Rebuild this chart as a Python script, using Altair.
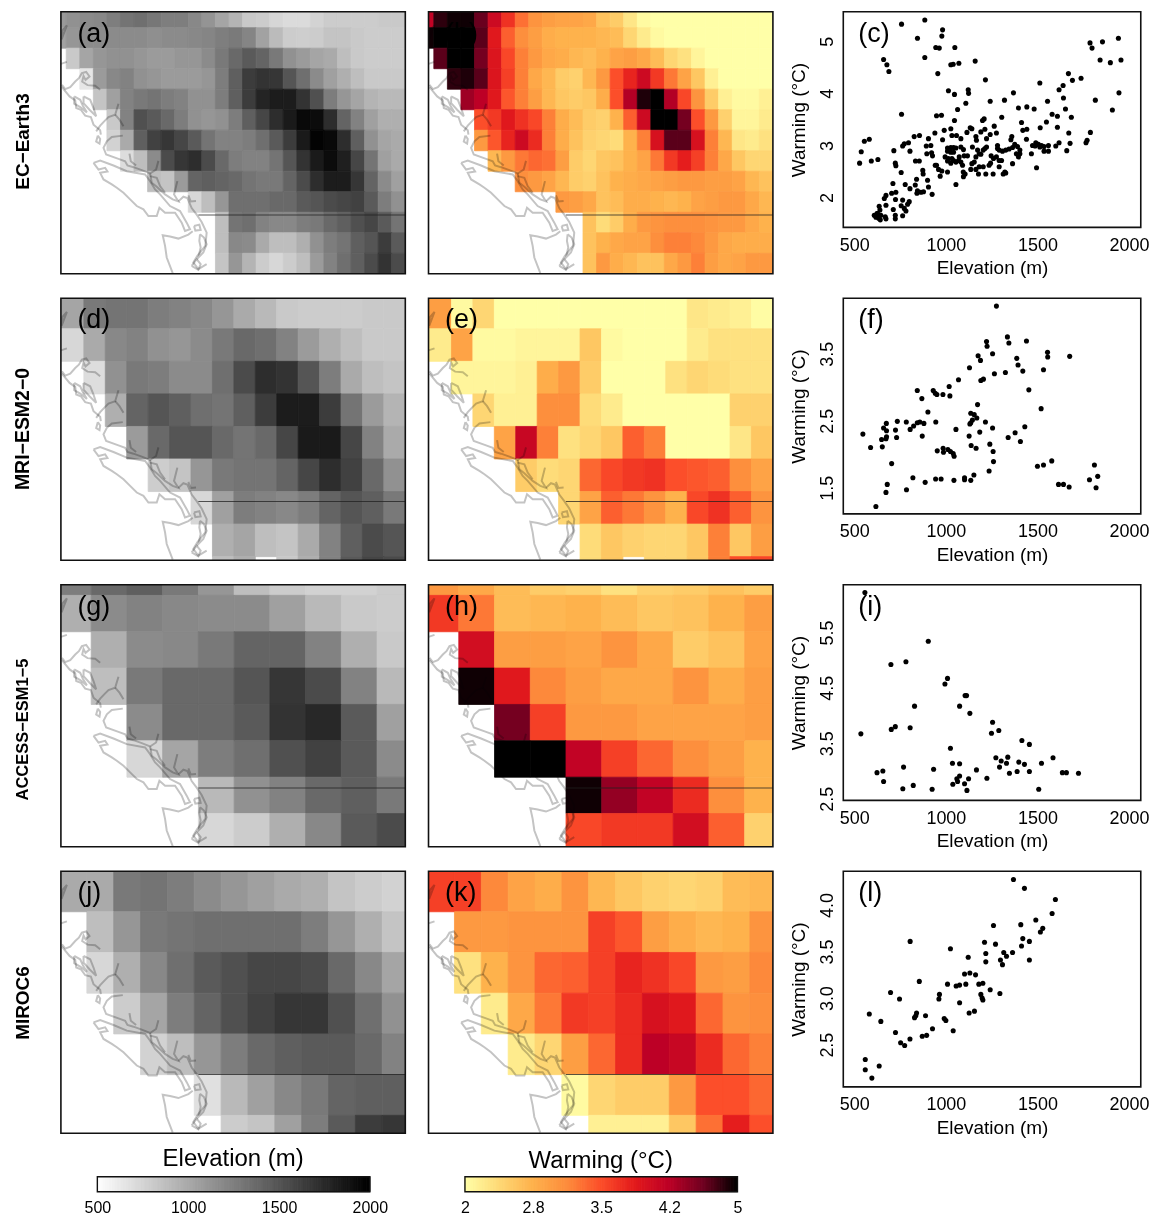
import altair as alt
import numpy as np
import pandas as pd

N = None
MODELS = ["EC−Earth3", "MRI−ESM2−0", "ACCESS−ESM1−5", "MIROC6"]
MODEL_LABEL_Y = [130, 131, 145, 132]
MODEL_LABEL_SIZE = [19, 19.5, 16.5, 19]
PANEL_LABELS = ["(a)", "(b)", "(c)", "(d)", "(e)", "(f)", "(g)", "(h)", "(i)", "(j)", "(k)", "(l)"]

ELEV_A = [
 [1100,1150,1180,1200,1260,1320,1350,1300,1260,1260,1200,1130,1030,940,820,800,740,710,710,760,800,800,800,800,820,820],
 [1050,1120,1180,1180,1180,1180,1180,1160,1180,1180,1200,1220,1260,1280,1220,1050,900,800,790,800,850,850,820,800,800,800],
 [N,820,1030,1120,1150,1150,1120,1090,1090,1120,1120,1180,1290,1380,1470,1410,1290,1150,1090,1030,1000,880,820,800,800,800],
 [N,N,650,1090,1200,1235,1150,1120,1090,1090,1090,1120,1265,1440,1650,1700,1680,1500,1350,1180,1060,970,880,820,820,820],
 [N,N,N,850,1060,1235,1290,1320,1265,1235,1150,1150,1265,1440,1650,1790,1835,1835,1700,1530,1265,1120,1030,940,910,910],
 [N,N,N,N,820,1235,1530,1470,1380,1265,1150,1120,1150,1265,1440,1590,1735,1850,1950,1930,1735,1410,1235,1060,970,970],
 [N,N,N,N,765,1000,1440,1620,1680,1590,1470,1320,1235,1235,1265,1350,1470,1650,1850,1980,1950,1735,1440,1150,1030,1000],
 [N,N,N,N,N,700,880,1180,1560,1680,1735,1560,1380,1265,1235,1235,1320,1500,1700,1850,1930,1820,1590,1320,1060,1000],
 [N,N,N,N,N,N,N,880,850,1090,1410,1440,1410,1380,1320,1290,1290,1410,1560,1735,1835,1835,1680,1410,1180,1060],
 [N,N,N,N,N,N,N,N,N,N,735,880,1120,1350,1350,1350,1380,1380,1470,1500,1560,1590,1620,1470,1265,1150],
 [N,N,N,N,N,N,N,N,N,N,N,N,880,1320,1350,1235,1200,1200,1265,1290,1380,1440,1530,1590,1470,1320],
 [N,N,N,N,N,N,N,N,N,N,N,N,880,1200,1180,1000,880,880,970,1150,1265,1320,1440,1500,1650,1470],
 [N,N,N,N,N,N,N,N,N,N,N,N,850,1120,940,800,735,800,880,1090,1235,1350,1440,1560,1700,1560],
]
WARM_B = [
 [4.2,4.85,4.95,4.95,4.65,4.1,3.7,3.3,3.05,2.95,2.9,2.9,2.85,2.6,2.5,2.25,2.05,2,2,2,2,2,2,2,2,2],
 [4.95,5,5,5,4.7,3.9,3.4,3.1,2.95,2.8,2.75,2.75,2.75,2.7,2.65,2.4,2.2,2.05,2,2,2,2,2,2,2,2],
 [N,4.7,5,5,4.6,3.95,3.55,3.2,3.0,2.85,2.8,2.7,2.65,2.75,2.9,2.95,2.85,2.65,2.4,2.3,2.1,2,2,2,2,2],
 [N,N,4.85,4.9,4.7,3.95,3.6,3.2,2.85,2.7,2.5,2.45,2.7,3.0,3.5,3.8,4.1,3.65,3.25,2.9,2.55,2.15,2,2,2,2],
 [N,N,N,4.4,4.25,3.9,3.45,3.2,2.95,2.7,2.55,2.5,2.55,2.8,3.5,4.3,4.9,5,4.3,3.55,3.05,2.5,2.15,2.05,2.05,2.15],
 [N,N,N,N,3.5,3.65,3.9,3.7,3.55,3.2,2.8,2.65,2.5,2.45,2.75,3.4,4.1,5,5,4.6,3.5,3.0,2.45,2.1,2.1,2.2],
 [N,N,N,N,3.0,3.45,3.8,4.1,3.75,3.2,2.8,2.6,2.45,2.4,2.35,2.75,3.2,4.0,4.7,4.7,4.0,3.2,2.7,2.25,2.2,2.3],
 [N,N,N,N,N,2.7,3.0,3.25,3.35,3.3,2.95,2.5,2.4,2.55,2.6,2.75,2.9,3.25,3.65,3.85,3.6,3.2,2.85,2.55,2.4,2.4],
 [N,N,N,N,N,N,N,3.1,3.0,2.9,2.7,2.5,2.45,2.6,2.75,2.8,2.85,2.9,2.95,3.0,3.0,2.95,2.95,2.9,2.7,2.6],
 [N,N,N,N,N,N,N,N,N,N,3.0,2.95,2.85,2.6,2.65,2.8,2.8,2.75,2.7,2.75,2.9,2.95,3.0,3.0,2.85,2.7],
 [N,N,N,N,N,N,N,N,N,N,N,N,2.6,2.35,2.5,2.8,3.0,3.05,3.1,3.1,3.1,3.05,3.0,3.0,2.85,2.75],
 [N,N,N,N,N,N,N,N,N,N,N,N,2.6,2.75,2.85,2.9,2.9,3.1,3.2,3.2,3.15,3.0,2.85,2.8,2.8,2.8],
 [N,N,N,N,N,N,N,N,N,N,N,N,2.6,3.0,2.8,2.7,2.6,2.6,2.85,3.0,3.2,2.95,2.85,2.9,3.0,3.0],
]
ELEV_D = [
 [1030,1290,1320,1320,1265,1235,1200,1120,1000,910,820,800,800,800,820,820],
 [735,1000,1200,1235,1150,1120,1180,1290,1380,1350,1235,1090,970,880,820,820],
 [N,700,1150,1290,1265,1180,1180,1350,1560,1735,1700,1500,1265,1000,880,850],
 [N,N,970,1410,1500,1440,1350,1320,1440,1650,1835,1835,1650,1320,1090,940],
 [N,N,N,1090,1380,1500,1500,1380,1320,1380,1590,1850,1850,1590,1235,1000],
 [N,N,N,N,795,850,1120,1290,1320,1320,1410,1590,1735,1620,1380,1150],
 [N,N,N,N,N,N,735,1060,1265,1235,1200,1265,1410,1500,1440,1290],
 [N,N,N,N,N,N,N,970,1030,880,850,1000,1235,1440,1560,1500],
 [N,N,N,N,N,N,N,880,970,N,820,970,1235,1470,1590,1560],
]
WARM_E = [
 [2.95,2.05,2.4,2,2,2,2,2,2,2,2,2,2.25,2.2,2.15,2.03],
 [2.2,2.9,2.05,2.05,2.1,2.1,2.1,2.55,2.05,2,2,2,2.2,2.3,2.3,2.3],
 [N,2.1,2.1,2.1,2.15,2.8,3.0,2.5,2,2,2,2.3,2.4,2.35,2.3,2.3],
 [N,N,2.4,2.15,2.15,3.1,3.1,2.35,2.2,2,2,2,2,2,2.45,2.45],
 [N,N,N,2.9,4.15,3.2,2.3,2.4,2.55,3.4,3.2,2,2,2,2.25,2.55],
 [N,N,N,N,2.5,2.35,2.4,3.35,3.55,3.65,3.7,3.5,3.45,3.4,3.1,2.9],
 [N,N,N,N,N,N,2.4,2.9,3.4,3.25,3.05,2.75,3.55,3.7,3.4,3.05],
 [N,N,N,N,N,N,N,2.35,2.55,2.45,2.4,2.4,2.55,3.2,2.55,2.95],
 [N,N,N,N,N,N,N,2.35,2.55,N,2.4,2.4,2.55,3.2,3.5,3.55],
]
ELEV_G = [
 [1265,1380,1440,1290,1120,880,800,765,765,800],
 [970,1180,1235,1200,1180,1180,1060,910,820,800],
 [N,970,1180,1200,1290,1410,1410,1235,970,820],
 [N,880,1290,1380,1380,1500,1680,1560,1235,910],
 [N,N,1180,1380,1380,1470,1700,1765,1470,1060],
 [N,N,735,1030,1265,1350,1530,1620,1470,1180],
 [N,N,N,N,910,1150,1235,1380,1440,1290],
 [N,N,N,N,735,800,970,1200,1470,1560],
]
WARM_H = [
 [3.0,2.85,2.65,2.5,2.45,2.3,2.45,2.5,2.6,2.5],
 [3.65,3.25,2.65,2.7,2.75,2.65,2.55,2.6,2.75,2.95],
 [N,4.05,2.95,2.95,2.9,3.05,2.85,2.5,2.6,2.9],
 [N,4.95,3.9,3.15,2.95,2.85,2.85,3.05,2.8,2.95],
 [N,N,4.6,3.6,3.0,3.0,2.9,2.9,2.9,2.95],
 [N,N,5,5,4.2,3.6,3.35,3.1,2.95,2.75],
 [N,N,N,N,4.95,4.45,4.2,3.75,3.1,2.75],
 [N,N,N,N,3.55,3.65,3.65,4.05,3.4,2.45],
]
ELEV_J = [
 [1000,1000,1290,1320,1265,1180,1120,1060,1000,970,850,800,765],
 [N,880,1120,1290,1320,1350,1350,1350,1350,1265,1120,970,850],
 [N,735,970,1200,1350,1470,1530,1590,1590,1560,1380,1200,1030],
 [N,N,800,1030,1265,1410,1530,1620,1680,1680,1530,1350,1150],
 [N,N,N,765,880,1120,1265,1380,1440,1470,1470,1380,1235],
 [N,N,N,N,N,680,910,1060,1200,1290,1410,1440,1440],
 [N,N,N,N,N,N,800,850,1060,1265,1470,1650,1680],
]
WARM_K = [
 [3.6,3.6,3.15,2.9,2.8,3.05,2.7,2.55,2.45,2.4,2.45,2.65,2.7],
 [N,3.0,3.0,3.05,3.05,3.05,3.6,3.45,2.95,2.8,2.7,2.75,3.05],
 [N,2.3,2.75,3.05,3.35,3.4,3.6,3.8,3.7,3.55,3.0,2.95,3.15],
 [N,N,2.2,2.85,3.25,3.65,3.6,3.75,4.0,3.9,3.35,3.05,3.1],
 [N,N,N,2.2,2.4,2.95,3.35,3.75,4.25,4.15,3.75,3.35,3.2],
 [N,N,N,N,N,2.05,2.4,2.5,2.5,3.0,3.5,3.5,3.35],
 [N,N,N,N,N,N,2.15,2.15,2.15,2.55,3.3,3.85,3.5],
]

SCATTER_C = [
 (758,5.33),(885,5.41),(845,5.06),(982,5.22),(978,5.10),(945,4.88),(964,4.87),(1049,4.88),(885,4.69),(660,4.65),
 (678,4.55),(689,4.42),(956,4.38),(1027,4.55),(1040,4.56),(1071,4.58),(1160,4.62),(1216,4.26),(1014,4.05),(1047,3.98),
 (1122,4.07),(1124,4.0),(1369,4.01),(1242,3.85),(1320,3.87),(1109,3.81),(1064,3.69),(758,3.6),(949,3.57),(976,3.58),
 (1047,3.48),(1305,3.54),(1396,3.72),(1442,3.74),(1482,3.70),(1513,4.2),(1555,3.85),(1618,4.07),(1640,4.15),(1669,4.38),
 (1691,4.25),(1738,4.29),(1642,3.91),(1653,3.70),(1580,3.6),(1609,3.56),(1685,3.54),(1787,4.97),(1798,4.87),(1855,4.99),
 (1942,5.06),(1842,4.64),(1898,4.59),(1956,4.64),(1945,4.01),(1816,3.87),(1909,3.68),(1789,3.25),(1771,3.10),(1765,3.05),
 (1549,3.45),(1515,3.34),(1609,3.35),(1671,3.24),(1413,3.44),(1420,3.29),(1442,3.31),(1440,3.12),(1360,3.17),(1355,3.11),
 (1678,3.04),(1660,2.90),(1600,2.99),(1618,3.05),(1495,2.57),(1467,2.84),(1473,3.0),(1491,3.05),(1505,3.02),(1522,3.0),
 (1487,2.99),(1513,2.97),(1536,2.89),(1560,3.0),(1560,2.89),(1536,2.98),(529,2.66),(538,2.88),(555,3.08),(582,3.12),
 (593,2.70),(629,2.73),(716,2.90),(724,2.66),(727,2.61),(756,2.48),(764,2.99),(773,3.03),(796,3.05),(804,2.89),
 (827,3.17),(856,3.19),(905,3.13),(940,3.24),(991,3.29),(1027,3.32),(893,2.99),(918,3.0),(896,2.84),(922,2.86),
 (927,2.80),(834,2.70),(855,2.70),(942,2.62),(982,3.11),(1033,3.19),(1058,3.19),(1082,3.13),(1115,3.25),(1133,3.34),
 (1142,3.32),(1200,3.48),(1209,3.51),(1213,3.31),(1191,3.26),(1264,3.37),(1242,3.21),(1276,3.24),(1164,3.17),(1167,3.10),
 (1222,3.13),(1145,2.97),(1222,2.97),(1082,2.97),(1096,2.92),(1009,2.95),(1027,2.96),(1042,2.96),(1055,2.95),(1009,2.89),
 (1027,2.87),(1042,2.87),(996,2.78),(1014,2.75),(1033,2.75),(1009,2.70),(1027,2.66),(1042,2.71),(1055,2.68),(1069,2.71),
 (1082,2.68),(1100,2.80),(1118,2.80),(1073,2.78),(1173,2.91),(1182,2.84),(1204,2.91),(1213,2.94),(1164,2.78),(1191,2.83),
 (1282,3.0),(1282,2.94),(1291,2.91),(1309,2.89),(1327,2.91),(1345,2.93),(1364,2.96),(1376,3.02),(1391,2.98),(1404,2.91),
 (1404,2.84),(1396,2.78),(1385,2.84),(1364,2.65),(1247,2.80),(1260,2.75),(1276,2.78),(1291,2.71),(1304,2.71),(1244,2.66),
 (1236,2.62),(1291,2.59),(1155,2.68),(1142,2.65),(1182,2.59),(1204,2.59),(1091,2.62),(1095,2.49),(1105,2.45),(1096,2.40),
 (1136,2.54),(1164,2.54),(1178,2.45),(1218,2.45),(1258,2.45),(1313,2.45),(1327,2.47),(1322,2.49),(1055,2.25),(1009,2.49),
 (960,2.54),(978,2.51),(969,2.41),(949,2.62),(874,2.52),(876,2.45),(840,2.35),(833,2.24),(778,2.25),(804,2.17),
 (711,2.27),(727,2.10),(704,2.08),(900,2.33),(905,2.20),(925,2.06),(845,2.13),(842,2.08),(864,2.10),(878,2.11),
 (673,2.04),(664,1.98),(725,1.96),(764,1.95),(800,1.92),(791,1.87),(773,1.79),(756,1.84),(782,1.74),(764,1.65),
 (713,1.77),(724,1.66),(724,1.59),(673,1.85),(636,1.83),(640,1.76),(627,1.69),(609,1.66),(618,1.62),(633,1.60),
 (645,1.66),(669,1.63),(673,1.59),(624,1.69),(636,1.64),(642,1.57),
]
SCATTER_F = [
 (1276,4.21),(1336,3.75),(1344,3.66),(1440,3.69),(1222,3.68),(1225,3.61),(1255,3.5),(1176,3.47),(1189,3.40),(1555,3.52),
 (1556,3.45),(1676,3.46),(1387,3.43),(1394,3.33),(1420,3.24),(1533,3.26),(1129,3.29),(1325,3.22),(1265,3.2),(1069,3.11),
 (1191,3.10),(1205,3.12),(1018,3.01),(844,2.95),(931,2.95),(942,2.91),(951,2.89),(984,2.89),(1022,2.87),(1453,2.96),
 (869,2.83),(1173,2.74),(1520,2.68),(902,2.63),(1136,2.61),(1155,2.59),(1169,2.54),(1145,2.51),(1136,2.47),(1131,2.45),
 (735,2.49),(784,2.48),(844,2.47),(858,2.48),(880,2.46),(945,2.48),(1216,2.48),(675,2.46),(660,2.39),(676,2.35),
 (725,2.36),(731,2.25),(805,2.37),(824,2.42),(1055,2.37),(1255,2.39),(1185,2.33),(1431,2.41),(1378,2.32),(871,2.27),
 (1127,2.27),(547,2.3),(649,2.22),(676,2.26),(673,2.23),(653,2.11),(589,2.10),(1340,2.25),(1407,2.19),(1240,2.15),
 (1138,2.13),(1165,2.09),(1258,2.04),(953,2.05),(985,2.09),(987,2.03),(1011,2.07),(1025,2.04),(1040,2.01),(1045,1.97),
 (704,1.86),(1260,1.89),(1236,1.75),(1578,1.90),(1533,1.84),(1500,1.82),(1811,1.84),(820,1.65),(1102,1.65),(1153,1.69),
 (1102,1.62),(1136,1.61),(944,1.63),(974,1.63),(1044,1.61),(887,1.58),(680,1.55),(673,1.43),(785,1.47),(618,1.22),
 (1615,1.55),(1642,1.55),(1673,1.51),(1784,1.62),(1829,1.67),(1820,1.5),
]
SCATTER_I = [
 (558,6.22),(904,5.34),(700,4.92),(782,4.97),(1009,4.67),(995,4.57),(1105,4.36),(1113,4.36),(829,4.17),(1075,4.17),
 (1131,4.04),(1255,3.88),(1249,3.68),(1289,3.73),(702,3.75),(724,3.80),(805,3.78),(536,3.67),(1415,3.55),(1456,3.48),
 (1025,3.41),(1273,3.24),(1338,3.25),(1585,3.24),(1302,3.18),(1331,3.14),(1398,3.16),(1429,3.12),(1522,3.14),(1036,3.14),
 (1075,3.13),(769,3.07),(1293,3.07),(933,3.03),(1167,3.02),(656,3.0),(624,2.97),(1389,2.99),(1456,2.99),(1347,2.96),
 (1636,2.97),(1658,2.97),(1724,2.96),(1075,2.91),(1060,2.86),(1124,2.86),(1224,2.87),(660,2.81),(1064,2.81),(1038,2.76),
 (1102,2.77),(822,2.74),(765,2.68),(925,2.67),(1115,2.65),(1507,2.67),
]
SCATTER_L = [
 (1369,4.275),(1429,4.18),(1598,4.06),(1580,3.91),(1491,3.84),(1409,3.79),(1260,3.78),(1529,3.75),(1516,3.71),(1420,3.64),
 (1456,3.61),(1413,3.56),(805,3.61),(1211,3.60),(1271,3.58),(1025,3.53),(1316,3.49),(1364,3.49),(1218,3.48),(1331,3.45),
 (1122,3.44),(1298,3.41),(1456,3.41),(1218,3.39),(1309,3.36),(1102,3.26),(1131,3.27),(1162,3.25),(855,3.18),(1009,3.15),
 (1056,3.13),(1075,3.14),(1109,3.15),(1180,3.15),(1202,3.16),(1242,3.09),(698,3.06),(1295,3.05),(965,3.04),(962,2.99),
 (1191,3.04),(1198,3.0),(1202,2.98),(747,2.99),(1075,2.95),(582,2.83),(840,2.84),(1156,2.86),(1127,2.84),(889,2.81),
 (836,2.81),(829,2.79),(991,2.78),(1000,2.76),(645,2.75),(927,2.67),(1040,2.65),(725,2.63),(871,2.59),(895,2.60),
 (804,2.56),(753,2.52),(775,2.49),(560,2.34),(560,2.23),(636,2.27),(596,2.14),
]
SCATTER_Y_DOMAIN = [[1.426, 5.568], [1.11, 4.327], [2.47, 6.36], [2.046, 4.364]]
SCATTER_Y_TICKS = [[2, 3, 4, 5], [1.5, 2.5, 3.5], [2.5, 3.5, 4.5, 5.5], [2.5, 3.0, 3.5, 4.0]]
SCATTER_Y_FORMAT = ["d", ".1f", ".1f", ".1f"]
X_TICKS = [500, 1000, 1500, 2000]

# Map outline in the map's own units
COAST = {
 "corner": [(34,118),(50,76),(36,92),(34,118)],
 "left": [(32,192),(50,186)],
 "north": [(35,255),(45,268),(60,262),(75,245),(86,235),(95,220),(108,216),(118,230),(106,240),(100,228),(96,245),(112,256),(135,258),(150,270)],
 "inlet": [(35,262),(58,290),(75,302),(78,325),(92,330),(105,348),(122,352),(130,375),(150,392),(152,405)],
 "isles1": [(72,290),(90,300),(98,318),(110,338),(90,322),(72,312),(72,290)],
 "isles2": [(100,290),(120,300),(130,325),(138,350),(118,330),(100,310),(100,290)],
 "bella": [(205,312),(195,345),(175,352),(165,362),(150,378),(138,395)],
 "bella2": [(195,345),(208,360),(220,380)],
 "knight": [(218,408),(185,412),(170,425),(160,445),(168,465),(205,478),(225,485),(232,498),(250,503),(275,512),(300,522),(318,510),(325,484)],
 "island0": [(143,408),(150,418),(148,432),(138,426),(143,408)],
 "strait": [(238,462),(242,485),(258,498)],
 "georgia": [(300,522),(305,550),(320,562),(345,585),(368,600),(385,606),(372,585),(382,545)],
 "georgia2": [(385,606),(400,592),(412,596),(425,626),(440,646),(455,668),(470,700),(466,740),(442,770),(430,790),(445,810),(470,795)],
 "georgia3": [(415,588),(422,606),(438,605)],
 "vi": [(130,490),(150,483),(190,498),(230,515),(285,525),(300,545),(315,570),(330,585),(360,620),(390,635),(410,670),(420,690),(405,695),(395,670),(375,640),(345,640),(328,625),(320,650),(295,650),(280,630),(260,620),(240,600),(220,580),(200,565),(185,555),(160,540),(150,520),(172,516),(165,505),(145,510),(130,490)],
 "sunshine": [(300,530),(320,535),(330,560),(345,580)],
 "wa": [(368,822),(350,775),(345,740),(338,708),(360,712),(385,718),(415,706),(428,696)],
 "sound": [(450,705),(462,715),(470,735),(460,760),(445,775),(452,745),(448,725),(450,705)],
 "sound2": [(432,680),(448,676),(452,692),(436,694),(432,680)],
 "sound3": [(425,800),(440,780),(452,795),(445,812),(425,800)],
}
BORDER_Y = [647]
BORDER_X = [445, 1067]
MAP_X = [32, 1067]
MAP_Y = [824, 35]

GREY_RANGE = ["#ffffff", "#000000"]
GREY_DOMAIN = [500, 2000]
WARM_RANGE = ["#ffffa8", "#fed976", "#feb24c", "#fd8d3c", "#fc4e2a", "#e31a1c", "#bd0026", "#700020", "#000000"]
WARM_DOMAIN = [2, 2.375, 2.75, 3.125, 3.5, 3.875, 4.25, 4.625, 5]
GRID_SPEC = [(48, 40.76, 83, 61.75), (101, 64.4, 127, 98), (123, 107.4, 67, 109.5), (110, 80.7, 157, 122.6)]

FONT = "Liberation Sans"
W, H, SH = 345, 262.5, 216


def cells(grid, spec):
    fx, dx, fy, dy = spec
    out = []
    nr = len(grid)
    for r, row in enumerate(grid):
        for c, v in enumerate(row):
            if v is None:
                continue
            out.append(dict(
                x0=MAP_X[0] if c == 0 else fx + (c - 1) * dx,
                x1=MAP_X[1] if c == len(row) - 1 else fx + c * dx,
                y0=MAP_Y[1] if r == 0 else fy + (r - 1) * dy,
                y1=MAP_Y[0] if r == nr - 1 else fy + r * dy,
                v=v))
    return pd.DataFrame(out)


coast_df = pd.DataFrame([
    dict(path=k, i=i, x=p[0], y=p[1]) for k, pts in COAST.items() for i, p in enumerate(pts)
])
sx = alt.Scale(domain=MAP_X, nice=False, zero=False)
sy = alt.Scale(domain=MAP_Y, nice=False, zero=False)


def label_layer(text):
    return alt.Chart(pd.DataFrame({"t": [text]})).mark_text(
        align="left", baseline="alphabetic", fontSize=27, font=FONT, color="black"
    ).encode(x=alt.value(16.5), y=alt.value(30), text="t:N")


def heat(grid, spec, cscale, label, model_idx=None):
    df = cells(grid, spec)
    rect = alt.Chart(df).mark_rect(clip=True, strokeWidth=0.8).encode(
        x=alt.X("x0:Q", scale=sx, axis=None),
        x2="x1:Q",
        y=alt.Y("y0:Q", scale=sy, axis=None),
        y2="y1:Q",
        fill=alt.Fill("v:Q", scale=cscale, legend=None),
        stroke=alt.Stroke("v:Q", scale=cscale, legend=None),
    )
    coast = alt.Chart(coast_df).mark_line(
        strokeWidth=2, color="#c4c4c4", blend="multiply"
    ).encode(
        x=alt.X("x:Q", scale=sx, axis=None),
        y=alt.Y("y:Q", scale=sy, axis=None),
        detail="path:N",
        order="i:Q",
    )
    border = alt.Chart(pd.DataFrame({"a": [BORDER_X[0]], "b": [BORDER_X[1]], "y": BORDER_Y})).mark_rule(
        color="#202020", strokeWidth=1.2, opacity=0.75
    ).encode(
        x=alt.X("a:Q", scale=sx, axis=None), x2="b:Q", y=alt.Y("y:Q", scale=sy, axis=None)
    )
    frame = alt.Chart(pd.DataFrame({"a": [MAP_X[0]], "b": [MAP_X[1]], "c": [MAP_Y[0]], "d": [MAP_Y[1]]})).mark_rect(
        fill="transparent", stroke="#111111", strokeWidth=1.6
    ).encode(
        x=alt.X("a:Q", scale=sx, axis=None), x2="b:Q",
        y=alt.Y("c:Q", scale=sy, axis=None), y2="d:Q"
    )
    layers = [rect, coast, border, frame, label_layer(label)]
    if model_idx is not None:
        layers.append(
            alt.Chart(pd.DataFrame({"t": [MODELS[model_idx]]})).mark_text(
                angle=270, fontWeight="bold", font=FONT, fontSize=MODEL_LABEL_SIZE[model_idx],
                align="center", baseline="middle", color="black"
            ).encode(x=alt.value(-37.5), y=alt.value(MODEL_LABEL_Y[model_idx]), text="t:N")
        )
    return alt.layer(*layers).properties(width=W, height=H, view=alt.ViewConfig(stroke="transparent"))


def scatter(points, idx, label):
    df = pd.DataFrame(points, columns=["e", "w"])
    pts = alt.Chart(df).mark_circle(size=26, color="black", opacity=1).encode(
        x=alt.X("e:Q", scale=alt.Scale(domain=[440, 2064], nice=False, zero=False),
                axis=alt.Axis(values=X_TICKS, title="Elevation (m)", grid=False, ticks=False, domain=False,
                              labelFontSize=18, titleFontSize=19, labelFont=FONT, titleFont=FONT,
                              titleFontWeight="normal", labelPadding=9, titlePadding=4.5,
                              labelFlush=False, labelOverlap=False, format="d", labelColor="black", titleColor="black")),
        y=alt.Y("w:Q", scale=alt.Scale(domain=SCATTER_Y_DOMAIN[idx], nice=False, zero=False),
                axis=alt.Axis(values=SCATTER_Y_TICKS[idx], title="Warming (°C)", grid=False, ticks=False, domain=False,
                              labelFontSize=18, titleFontSize=19, labelFont=FONT, titleFont=FONT,
                              titleFontWeight="normal", labelAngle=270, labelAlign="center", labelBaseline="bottom",
                              labelPadding=7, titlePadding=10, labelFlush=False, labelOverlap=False,
                              format=SCATTER_Y_FORMAT[idx], labelColor="black", titleColor="black")),
    )
    return alt.layer(pts, label_layer(label).encode(x=alt.value(15))).properties(
        width=298, height=SH, view=alt.ViewConfig(stroke="#111111", strokeWidth=1.6)
    )


def spacer(h):
    return alt.Chart(pd.DataFrame({"a": [0]})).mark_point(opacity=0).encode(
        x=alt.value(12), y=alt.value(17)
    ).properties(width=24, height=h, view=alt.ViewConfig(stroke="transparent"))


def colorbar(domain, cscale, step, title, title_y, axis_kw):
    lo, hi = domain
    edges = np.arange(lo, hi, step)
    df = pd.DataFrame({"a": edges, "b": edges + step, "v": edges + step / 2, "y0": 0.0, "y1": 1.0})
    bx = alt.Scale(domain=[lo, hi], range=[36.5, 309.5], nice=False, zero=False)
    by = alt.Scale(domain=[0, 1], range=[34, 19], nice=False, zero=False)
    ax = alt.Axis(title=None, grid=False, ticks=False, domain=False, labelFontSize=16,
                  labelFont=FONT, labelPadding=8, labelFlush=False, labelOverlap=False,
                  labelColor="black", **axis_kw)
    ramp = alt.Chart(df).mark_rect(strokeWidth=1).encode(
        x=alt.X("a:Q", scale=bx, axis=ax),
        x2="b:Q",
        y=alt.Y("y0:Q", scale=by, axis=None),
        y2="y1:Q",
        fill=alt.Fill("v:Q", scale=cscale, legend=None),
        stroke=alt.Stroke("v:Q", scale=cscale, legend=None),
    )
    frame = alt.Chart(pd.DataFrame({"a": [lo], "b": [hi], "c": [0.0], "d": [1.0]})).mark_rect(
        fill="transparent", stroke="#111111", strokeWidth=1.4
    ).encode(x=alt.X("a:Q", scale=bx, axis=ax), x2="b:Q", y=alt.Y("c:Q", scale=by, axis=None), y2="d:Q")
    txt = alt.Chart(pd.DataFrame({"t": [title]})).mark_text(
        fontSize=24, font=FONT, align="center", baseline="alphabetic", color="black"
    ).encode(x=alt.value(172.5), y=alt.value(title_y), text="t:N")
    return alt.layer(ramp, frame, txt).properties(width=W, height=34, view=alt.ViewConfig(stroke="transparent"))


grey = alt.Scale(domain=GREY_DOMAIN, range=GREY_RANGE, clamp=True, interpolate="rgb")
warm = alt.Scale(domain=WARM_DOMAIN, range=WARM_RANGE, clamp=True, interpolate="rgb")

ELEVS = [ELEV_A, ELEV_D, ELEV_G, ELEV_J]
WARMS = [WARM_B, WARM_E, WARM_H, WARM_K]
SCATTERS = [SCATTER_C, SCATTER_F, SCATTER_I, SCATTER_L]

charts = []
for i in range(4):
    charts += [
        heat(ELEVS[i], GRID_SPEC[i], grey, PANEL_LABELS[3 * i], i),
        heat(WARMS[i], GRID_SPEC[i], warm, PANEL_LABELS[3 * i + 1]),
        spacer(H),
        scatter(SCATTERS[i], i, PANEL_LABELS[3 * i + 2]),
    ]
charts += [
    colorbar(GREY_DOMAIN, grey, 10, "Elevation (m)", 8.5, dict(values=[500, 1000, 1500, 2000], format="d")),
    colorbar([2, 5], warm, 0.02, "Warming (°C)", 10.5,
             dict(values=[2, 2.75, 3.5, 4.25, 5],
                  labelExpr="datum.value==2?'2':datum.value==2.75?'2.8':datum.value==3.5?'3.5':datum.value==4.25?'4.2':'5'")),
    spacer(34),
    spacer(34),
]

chart = alt.concat(*charts, columns=4, spacing={"row": 24, "column": 23.25}, bounds="flush", align="each").resolve_scale(
    fill="independent", stroke="independent", x="independent", y="independent"
).properties(padding={"left": 5, "top": 0.7, "right": 0, "bottom": 0}, background="white")

chart.save("out.html", embed_options={"renderer": "svg", "actions": False})
